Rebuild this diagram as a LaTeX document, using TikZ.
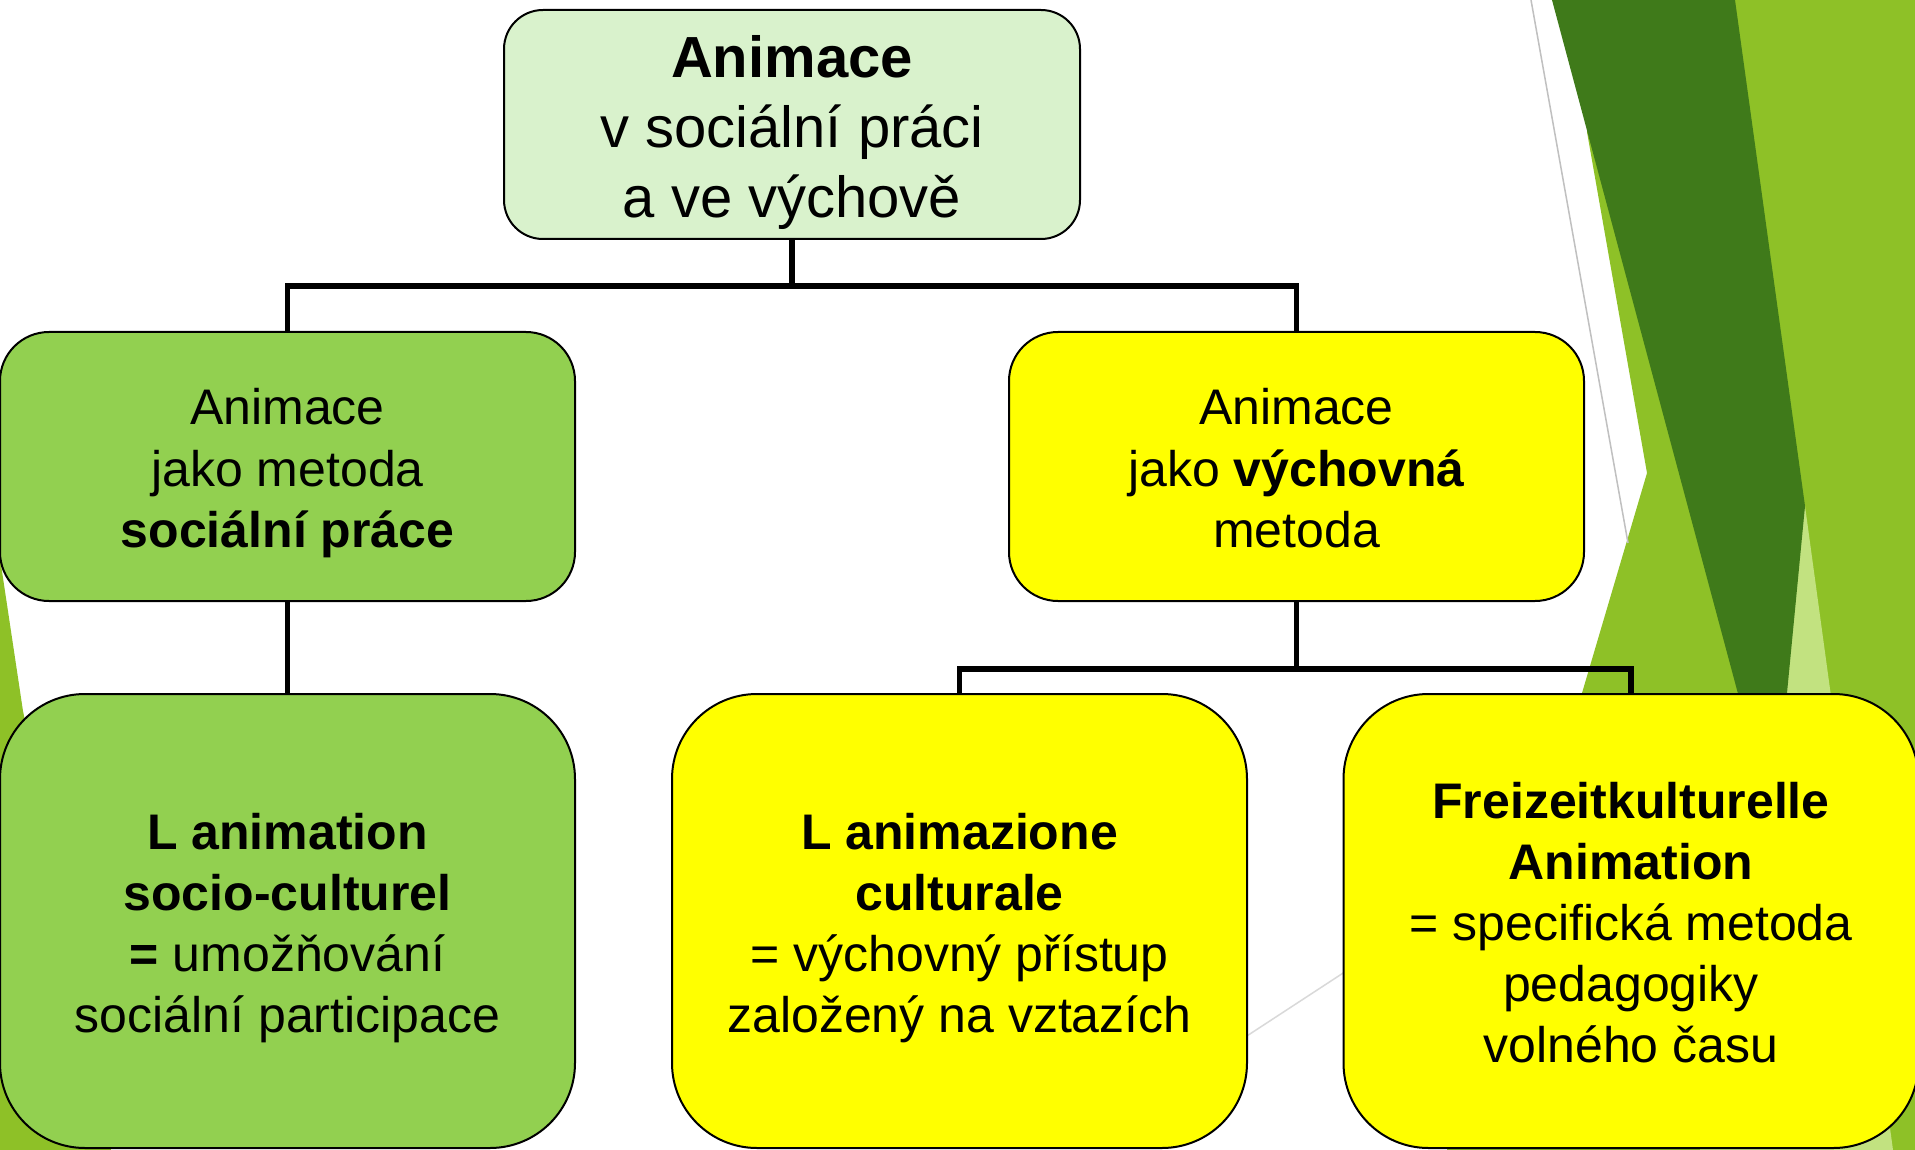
\documentclass[tikz,border=0pt]{standalone}
\usepackage{fontspec}
\setmainfont{Liberation Sans}
\definecolor{topfill}{HTML}{D9F2CC}
\definecolor{leafgreen}{HTML}{92D050}
\definecolor{pureyellow}{HTML}{FFFF00}
\definecolor{darkg}{HTML}{3F7A1A}
\definecolor{midg}{HTML}{8EC127}
\definecolor{lightg}{HTML}{C2E280}
\definecolor{grayl}{HTML}{C0C0C0}
\definecolor{grayb}{HTML}{D9D9D9}
\newcommand{\pst}{\rule[-0.212em]{0pt}{1.117em}}
\pgfdeclarelayer{bglayer}
\pgfdeclarelayer{connlayer}
\pgfsetlayers{bglayer,connlayer,main}
\begin{document}
\begin{tikzpicture}[x=1pt,y=-1pt,
  box/.style={draw=black, line width=2pt, inner sep=0pt},
  topbox/.style={box, fill=topfill, rounded corners=39pt, minimum width=576pt, minimum height=229pt},
  midbox/.style={box, rounded corners=49pt, minimum width=575pt, minimum height=269pt},
  lowbox/.style={box, rounded corners=85pt, minimum width=575pt, minimum height=454pt},
  txt/.style={align=center, inner sep=0pt, yshift=-2.5pt},
  toptxt/.style={txt, font=\fontsize{58}{70}\selectfont},
  midtxt/.style={txt, font=\fontsize{50}{61.5}\selectfont},
  lowtxt/.style={txt, font=\fontsize{50}{61}\selectfont},
  conn/.style={line width=5.5pt, line join=miter}]

\useasboundingbox (0,0) rectangle (1915,1150);

\begin{pgfonlayer}{bglayer}
\fill[white] (0,0) rectangle (1915,1150);
% right decoration
\fill[midg] (1600,0) -- (1587,132) -- (1647,473) -- (1447,1150) -- (1915,1150) -- (1915,0) -- cycle;
\fill[lightg] (1805,506) -- (1700,1150) -- (1893,1150) -- cycle;
\fill[darkg] (1552,0) -- (1735,0) -- (1805,506) -- (1774,828) -- cycle;
\draw[grayl, line width=1.5pt] (1531,0) -- (1628,543);
% left decoration
\fill[midg] (0,558) -- (23,711) -- (111,1150) -- (0,1150) -- cycle;
% bottom gray line
\draw[grayb, line width=1.5pt] (1230,1047) -- (1360,962);
\end{pgfonlayer}

\node[topbox] (top) at (792,124.5) {};
\node[midbox, fill=leafgreen] (ml) at (287.5,466.5) {};
\node[midbox, fill=pureyellow] (mr) at (1296.5,466.5) {};
\node[lowbox, fill=leafgreen] (bl) at (287.5,921) {};
\node[lowbox, fill=pureyellow] (bm) at (959.5,921) {};
\node[lowbox, fill=pureyellow] (br) at (1631,921) {};

\node[toptxt] (toptext) at (top.center) {\pst\textbf{Animace}\\v sociální práci\\\pst a ve výchově};
\node[midtxt] (mltext) at (ml.center) {\pst Animace\\jako metoda\\\pst\textbf{sociální práce}};
\node[midtxt] (mrtext) at (mr.center) {\pst Animace\\jako \textbf{výchovná}\\\pst metoda};
\node[lowtxt] (bltext) at (bl.center) {\pst\textbf{L animation}\\\textbf{socio-culturel}\\\textbf{=} umožňování\\\pst sociální participace};
\node[lowtxt] (bmtext) at (bm.center) {\pst\textbf{L animazione}\\\textbf{culturale}\\= výchovný přístup\\\pst založený na vztazích};
\node[lowtxt] (brtext) at (br.center) {\pst\textbf{Freizeitkulturelle}\\\textbf{Animation}\\= specifická metoda\\pedagogiky\\\pst volného času};

\coordinate (jt) at (792,286);
\coordinate (jr) at (1296.5,669);
\begin{pgfonlayer}{connlayer}
\draw[conn] (top.south) -- (jt);
\draw[conn] (ml.north) |- (jt) -| (mr.north);
\draw[conn] (ml.south) -- (bl.north);
\draw[conn] (mr.south) -- (jr);
\draw[conn] (bm.north) |- (jr) -| (br.north);
\end{pgfonlayer}
\end{tikzpicture}
\end{document}
